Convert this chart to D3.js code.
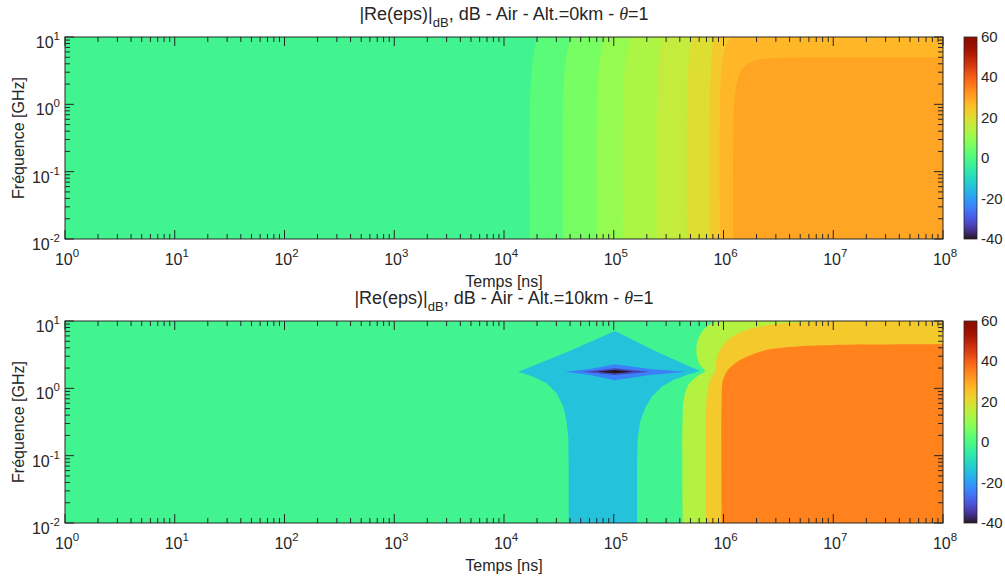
<!DOCTYPE html>
<html><head><meta charset="utf-8">
<script src="https://cdn.jsdelivr.net/npm/d3@7"></script>
<style>
body{margin:0;background:#fff}
text{font-family:"Liberation Sans",Arial,sans-serif;fill:#262626}
</style>
</head><body>
<svg id="chart" width="1005" height="581"></svg>
<script>
// ---------------- DATA ----------------
const timeExps = [0,1,2,3,4,5,6,7,8];          // x tick labels 10^e  (Temps [ns])
const freqExps = [-2,-1,0,1];                   // y tick labels 10^e  (Fréquence [GHz])
const colorbarTicks = [-40,-20,0,20,40,60];
const altitudes = ["0km","10km"];

// Panel 1 (Alt.=0km): background level and level regions (value in dB, left edge as [log10 t, log10 f])
const topBackground = -2;
const topBandValues = [2, 6, 10, 13, 16, 20, 24, 27, 30];
const topBandEdges = [
  [[4.237,-2.1],[4.237,0.0],[4.252,0.5],[4.277,0.8],[4.312,1.05]],
  [[4.538,-2.1],[4.538,0.0],[4.553,0.5],[4.578,0.8],[4.613,1.05]],
  [[4.847,-2.1],[4.847,0.0],[4.862,0.5],[4.887,0.8],[4.922,1.05]],
  [[5.084,-2.1],[5.084,0.0],[5.099,0.5],[5.124,0.8],[5.159,1.05]],
  [[5.394,-2.1],[5.394,0.0],[5.404,0.5],[5.420,0.8],[5.444,1.05]],
  [[5.667,-2.1],[5.667,0.0],[5.677,0.5],[5.693,0.8],[5.717,1.05]],
  [[5.877,-2.1],[5.877,0.0],[5.885,0.5],[5.898,0.8],[5.917,1.05]],
  [[5.968,-2.1],[5.968,0.04],[5.983,0.535],[6.014,0.832],[6.059,0.98],[6.10,1.05]],
  [[6.090,-2.1],[6.090,-0.456],[6.099,0.039],[6.126,0.336],[6.175,0.535],[6.272,0.644],[6.454,0.684],[7.001,0.698],[8.1,0.698]]
];

// Panel 2 (Alt.=10km)
const bottomBackground = -2;
// closed low-value regions (dips around 2 GHz)
const bottomLowValues = [-14, -24, -33, -40];
const bottomLowShapes = [
  [[4.130,0.247],[4.571,0.535],[5.011,0.851],[5.391,0.544],[5.786,0.257],
   [5.665,0.198],[5.543,0.124],[5.437,0.024],[5.346,-0.124],[5.285,-0.297],[5.240,-0.496],[5.218,-0.742],[5.212,-1.139],[5.212,-2.1],
   [4.589,-2.1],[4.589,-1.139],[4.586,-0.742],[4.571,-0.496],[4.541,-0.273],[4.480,-0.074],[4.389,0.075],[4.267,0.173]],
  [[4.556,0.247],[4.784,0.287],[5.011,0.357],[5.330,0.287],[5.665,0.247],[5.330,0.198],[5.011,0.119],[4.784,0.198]],
  [[4.723,0.247],[5.011,0.297],[5.330,0.247],[5.011,0.198]],
  [[4.844,0.247],[5.011,0.272],[5.178,0.247],[5.011,0.223]]
];
// high-value regions (right of edge)
const bottomHighValues = [14, 24, 35];
const bottomHighEdges = [
  [[5.628,-2.1],[5.628,-0.396],[5.640,-0.148],[5.679,0.049],[5.756,0.173],[5.831,0.257],[5.786,0.346],[5.756,0.495],[5.756,0.644],[5.786,0.792],[5.847,0.915],[5.938,1.0],[6.029,1.05]],
  [[5.841,-2.1],[5.841,-0.396],[5.853,-0.050],[5.883,0.149],[5.930,0.272],[5.932,0.396],[5.968,0.569],[6.059,0.743],[6.211,0.866],[6.454,0.951],[6.849,0.990],[8.1,1.01]],
  [[5.983,-2.1],[5.983,-0.148],[5.992,0.098],[6.029,0.247],[6.105,0.372],[6.211,0.470],[6.393,0.569],[6.636,0.618],[7.001,0.644],[8.1,0.654]]
];

// ---------------- LAYOUT ----------------
const svg = d3.select("#chart");
const L = 65, R = 943;
const panels = [
  {top:37,  bottom:239, bg:topBackground, highValues:topBandValues, highEdges:topBandEdges, lowValues:[], lowShapes:[], alt:altitudes[0]},
  {top:321, bottom:523, bg:bottomBackground, highValues:bottomHighValues, highEdges:bottomHighEdges, lowValues:bottomLowValues, lowShapes:bottomLowShapes, alt:altitudes[1]}
];
const x = d3.scaleLog().domain([1,1e8]).range([L,R]);
const color = d3.scaleSequential(d3.interpolateTurbo).domain([-40,60]);
const axisCol = "#262626";

// gradient for colorbar
const defs = svg.append("defs");
const grad = defs.append("linearGradient").attr("id","cbgrad").attr("x1",0).attr("y1",1).attr("x2",0).attr("y2",0);
d3.range(0,1.0001,0.02).forEach(t=>grad.append("stop").attr("offset",t).attr("stop-color",d3.interpolateTurbo(t)));

panels.forEach((p,pi)=>{
  const y = d3.scaleLog().domain([0.01,10]).range([p.bottom,p.top]);
  const P = pt => [x(Math.pow(10,pt[0])), y(Math.pow(10,pt[1]))];
  const clipId = "clip"+pi;
  defs.append("clipPath").attr("id",clipId).append("rect")
    .attr("x",L).attr("y",p.top).attr("width",R-L).attr("height",p.bottom-p.top);
  const g = svg.append("g").attr("clip-path",`url(#${clipId})`);
  g.append("rect").attr("x",L).attr("y",p.top).attr("width",R-L).attr("height",p.bottom-p.top)
    .attr("fill",color(p.bg));
  const edgeLine = d3.line().curve(d3.curveCatmullRom.alpha(0.5));
  const closedLine = d3.line().curve(d3.curveLinearClosed);
  // low shapes
  p.lowShapes.forEach((s,i)=>{
    g.append("path").attr("d",closedLine(s.map(P))).attr("fill",color(p.lowValues[i]));
  });
  // high regions
  p.highEdges.forEach((e,i)=>{
    const last = e[e.length-1];
    const extra = [[8.1,last[1]],[8.1,-2.1]].map(P);
    const d = edgeLine(e.map(P)) + extra.map(q=>"L"+q[0]+","+q[1]).join("") + "Z";
    g.append("path").attr("d",d).attr("fill",color(p.highValues[i]));
  });

  // frame
  svg.append("rect").attr("x",L).attr("y",p.top).attr("width",R-L).attr("height",p.bottom-p.top)
    .attr("fill","none").attr("stroke",axisCol).attr("stroke-width",1);

  // ticks
  const tk = svg.append("g").attr("stroke",axisCol).attr("stroke-width",1);
  const majLen = 9, minLen = 5;
  timeExps.forEach(e=>{
    const xv = x(Math.pow(10,e));
    tk.append("line").attr("x1",xv).attr("x2",xv).attr("y1",p.bottom).attr("y2",p.bottom-majLen);
    tk.append("line").attr("x1",xv).attr("x2",xv).attr("y1",p.top).attr("y2",p.top+majLen);
    if(e<8) for(let k=2;k<=9;k++){
      const xm = x(k*Math.pow(10,e));
      tk.append("line").attr("x1",xm).attr("x2",xm).attr("y1",p.bottom).attr("y2",p.bottom-minLen);
      tk.append("line").attr("x1",xm).attr("x2",xm).attr("y1",p.top).attr("y2",p.top+minLen);
    }
  });
  freqExps.forEach(e=>{
    const yv = y(Math.pow(10,e));
    tk.append("line").attr("y1",yv).attr("y2",yv).attr("x1",L).attr("x2",L+majLen);
    tk.append("line").attr("y1",yv).attr("y2",yv).attr("x1",R).attr("x2",R-majLen);
    if(e<1) for(let k=2;k<=9;k++){
      const ym = y(k*Math.pow(10,e));
      tk.append("line").attr("y1",ym).attr("y2",ym).attr("x1",L).attr("x2",L+minLen);
      tk.append("line").attr("y1",ym).attr("y2",ym).attr("x1",R).attr("x2",R-minLen);
    }
  });

  // tick labels
  const fs = 16, fsx = 11.5;
  timeExps.forEach(e=>{
    const t = svg.append("text").attr("x",x(Math.pow(10,e))+2).attr("y",p.bottom+26)
      .attr("text-anchor","middle").style("font-size",fs+"px");
    t.append("tspan").text("10");
    t.append("tspan").attr("dy",-8).style("font-size",fsx+"px").text(String(e));
  });
  freqExps.forEach(e=>{
    const t = svg.append("text").attr("x",L-5).attr("y",y(Math.pow(10,e))+11)
      .attr("text-anchor","end").style("font-size",fs+"px");
    t.append("tspan").text("10");
    t.append("tspan").attr("dy",-8).style("font-size",fsx+"px").text(String(e));
  });

  // axis titles
  svg.append("text").attr("x",(L+R)/2).attr("y",p.bottom+48).attr("text-anchor","middle")
    .style("font-size","16px").text("Temps [ns]");
  svg.append("text").attr("transform",`translate(24,${(p.top+p.bottom)/2}) rotate(-90)`)
    .attr("text-anchor","middle").style("font-size","16px").text("Fréquence [GHz]");

  // title
  const tt = svg.append("text").attr("x",(L+R)/2).attr("y",p.top-17).attr("text-anchor","middle").style("font-size","18px");
  tt.append("tspan").text("|Re(eps)|");
  tt.append("tspan").attr("dy",7).style("font-size","13px").text("dB");
  tt.append("tspan").attr("dy",-7).text(", dB - Air - Alt.="+p.alt+" - ");
  tt.append("tspan").style("font-family","'Liberation Serif','DejaVu Serif',serif").style("font-style","italic").text("θ");
  tt.append("tspan").text("=1");

  // colorbar
  const cbx = 964, cbw = 13;
  const cy = d3.scaleLinear().domain([-40,60]).range([p.bottom,p.top]);
  svg.append("rect").attr("x",cbx).attr("y",p.top).attr("width",cbw).attr("height",p.bottom-p.top)
    .attr("fill","url(#cbgrad)").attr("stroke",axisCol).attr("stroke-width",0.8);
  colorbarTicks.forEach(v=>{
    svg.append("text").attr("x",cbx+cbw+4).attr("y",cy(v)+5).style("font-size","15px").text(v);
  });
});
</script>
</body></html>
